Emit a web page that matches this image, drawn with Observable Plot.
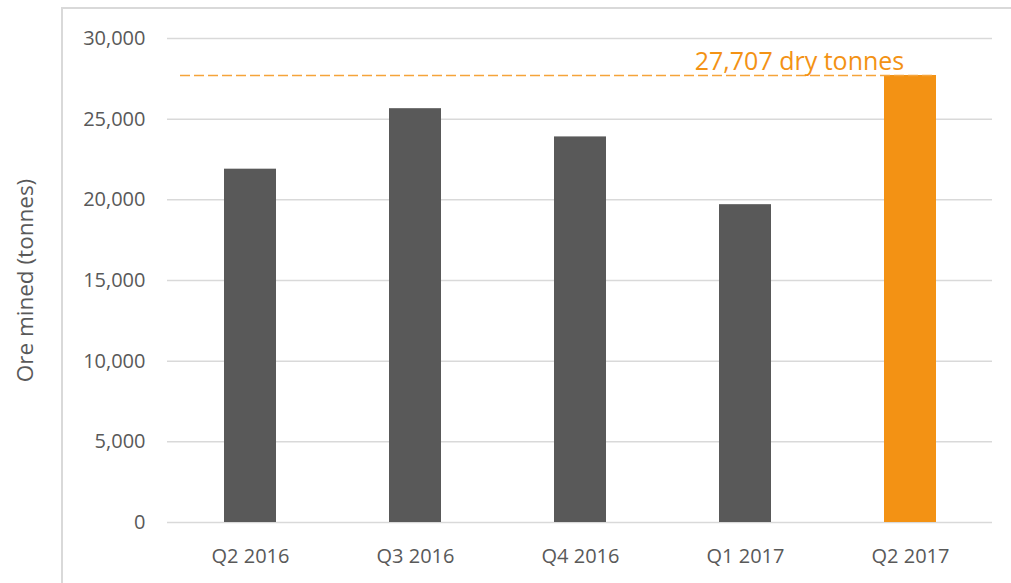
<!DOCTYPE html>
<html>
<head>
<meta charset="utf-8">
<script src="https://cdn.jsdelivr.net/npm/d3@7"></script>
<script src="https://cdn.jsdelivr.net/npm/@observablehq/plot@0.6"></script>
<style>
  html, body { margin: 0; padding: 0; background: #fff; }
  #wrap { position: relative; width: 1011px; height: 583px; overflow: hidden; }
  #frame { position: absolute; left: 61px; top: 7px; width: 2000px; height: 2000px;
           border-left: 2px solid #d9d9d9; border-top: 2px solid #d9d9d9; box-sizing: border-box; }
  #chart { position: absolute; left: 0; top: 0; }
</style>
</head>
<body>
<div id="wrap"><div id="frame"></div><div id="chart"></div></div>
<script>
const quarters = ["Q2 2016", "Q3 2016", "Q4 2016", "Q1 2017", "Q2 2017"];
const oreMined = [21900, 25650, 23900, 19700, 27707];
const highlight = [false, false, false, false, true];
const yTicks = [0, 5000, 10000, 15000, 20000, 25000, 30000];
const yTitle = "Ore mined (tonnes)";
const latestValue = 27707;
const latestLabel = "27,707 dry tonnes";

const data = quarters.map((q, i) => ({quarter: q, value: oreMined[i], hl: highlight[i]}));
const font = "'Open Sans', sans-serif";

const chart = Plot.plot({
  width: 1011,
  height: 583,
  marginLeft: 167,
  marginRight: 19,
  marginTop: 38,
  marginBottom: 61,
  style: {fontFamily: font, fontSize: "20px", color: "#595959", background: "transparent"},
  x: {domain: quarters, paddingInner: 0.685, paddingOuter: 0.3425, label: null},
  y: {domain: [0, 30000], label: null},
  marks: [
    Plot.gridY(yTicks, {stroke: "#d9d9d9", strokeOpacity: 1, strokeWidth: 1.5}),
    Plot.axisY(yTicks, {tickSize: 0, tickPadding: 22, tickFormat: d3.format(","), fontSize: 20, label: null}),
    Plot.text([yTitle], {frameAnchor: "left", rotate: -90, dx: -142, text: d => d,
      textAnchor: "middle", fontSize: 22.5, fill: "#595959"}),
    Plot.axisX({tickSize: 0, tickPadding: 26, fontSize: 20}),
    Plot.barY(data, {x: "quarter", y: "value", fill: d => d.hl ? "#f39214" : "#595959"}),
    Plot.ruleY([latestValue], {stroke: "#f5a43a", strokeWidth: 1.5, strokeDasharray: "10,4", insetLeft: 13, insetRight: 57}),
    Plot.text([latestLabel], {x: () => quarters[4], y: () => latestValue, text: d => d, dx: -111, dy: -5,
      lineAnchor: "bottom", textAnchor: "middle", fill: "#f39214", fontSize: 25})
  ]
});
document.getElementById("chart").appendChild(chart);
</script>
</body>
</html>
